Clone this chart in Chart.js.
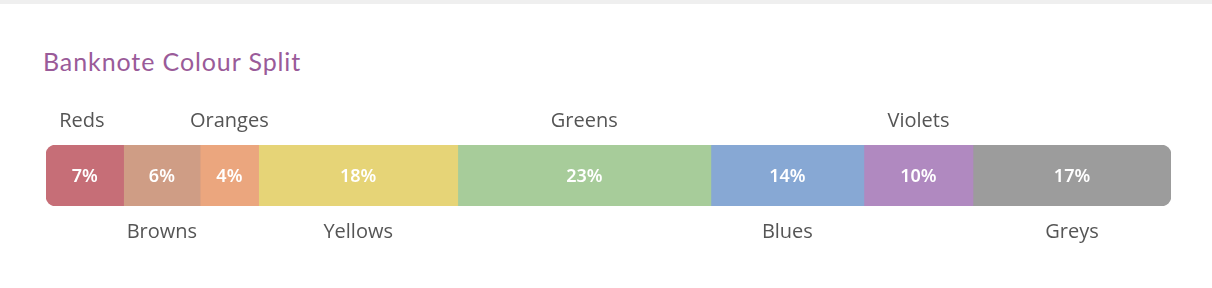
<!DOCTYPE html>
<html>
<head>
<meta charset="utf-8">
<script src="https://cdn.jsdelivr.net/npm/chart.js@4.4.1/dist/chart.umd.min.js"></script>
<style>
  html, body { margin: 0; padding: 0; background: #fff; }
  body { width: 1212px; height: 288px; position: relative; overflow: hidden; }
  .topbar { position: absolute; left: 0; top: 0; width: 1212px; height: 4px; background: #efefef; }
  h2 {
    position: absolute; left: 43px; top: 46px; margin: 0;
    font: 400 25px 'Lato', 'Open Sans', sans-serif; color: #9a5b99; letter-spacing: 0.9px;
  }
  #wrap { position: absolute; left: 0; top: 0; width: 1212px; height: 288px; }
</style>
</head>
<body>
<div class="topbar"></div>
<h2>Banknote Colour Split</h2>
<div id="wrap"><canvas id="split"></canvas></div>
<script>
const groups  = ['Reds', 'Browns', 'Oranges', 'Yellows', 'Greens', 'Blues', 'Violets', 'Greys'];
const shares  = [7, 6, 4, 18, 23, 14, 10, 17];              // printed on the bar
const widths  = [6.9, 6.8, 5.2, 17.7, 22.5, 13.6, 9.7, 17.6]; // segment lengths as drawn
const colours = ['#c66e77', '#cf9d85', '#eba67e', '#e6d477', '#a7cc9a', '#87a8d4', '#b089c0', '#9c9c9c'];

const total = widths.reduce((a, b) => a + b, 0);
const last  = groups.length - 1;

function cornerRadius(i) {
  if (i === 0)    return { topLeft: 10, bottomLeft: 10, topRight: 0, bottomRight: 0 };
  if (i === last) return { topLeft: 0, bottomLeft: 0, topRight: 10, bottomRight: 10 };
  return 0;
}

const segmentLabels = {
  id: 'segmentLabels',
  afterDatasetsDraw(chart) {
    const ctx = chart.ctx;
    ctx.save();
    ctx.textAlign = 'center';
    ctx.textBaseline = 'middle';
    chart.data.datasets.forEach((ds, i) => {
      const bar = chart.getDatasetMeta(i).data[0];
      const cx  = (bar.x + bar.base) / 2;
      const top = bar.y - bar.height / 2;
      const bot = bar.y + bar.height / 2;

      ctx.fillStyle = '#fff';
      ctx.font = '600 18px "Noto Sans", "Open Sans", sans-serif';
      ctx.fillText(`${shares[i]}%`, cx, bar.y + 1);

      ctx.fillStyle = '#555';
      ctx.font = '400 20px "Open Sans", sans-serif';
      ctx.fillText(ds.label, cx - (i === 0 ? 3 : 0), i % 2 === 0 ? top - 24 : bot + 26);
    });
    ctx.restore();
  }
};

new Chart(document.getElementById('split'), {
  type: 'bar',
  data: {
    labels: ['Banknotes'],
    datasets: groups.map((g, i) => ({
      label: g,
      data: [widths[i]],
      backgroundColor: colours[i],
      borderWidth: 0,
      borderRadius: cornerRadius(i),
      borderSkipped: false,
      barPercentage: 1,
      categoryPercentage: 1
    }))
  },
  options: {
    indexAxis: 'y',
    responsive: true,
    maintainAspectRatio: false,
    animation: false,
    layout: { padding: { left: 46, right: 41, top: 145, bottom: 82 } },
    scales: {
      x: { stacked: true, display: false, min: 0, max: total },
      y: { stacked: true, display: false }
    },
    plugins: {
      legend: { display: false },
      tooltip: { enabled: false }
    }
  },
  plugins: [segmentLabels]
});
</script>
</body>
</html>
